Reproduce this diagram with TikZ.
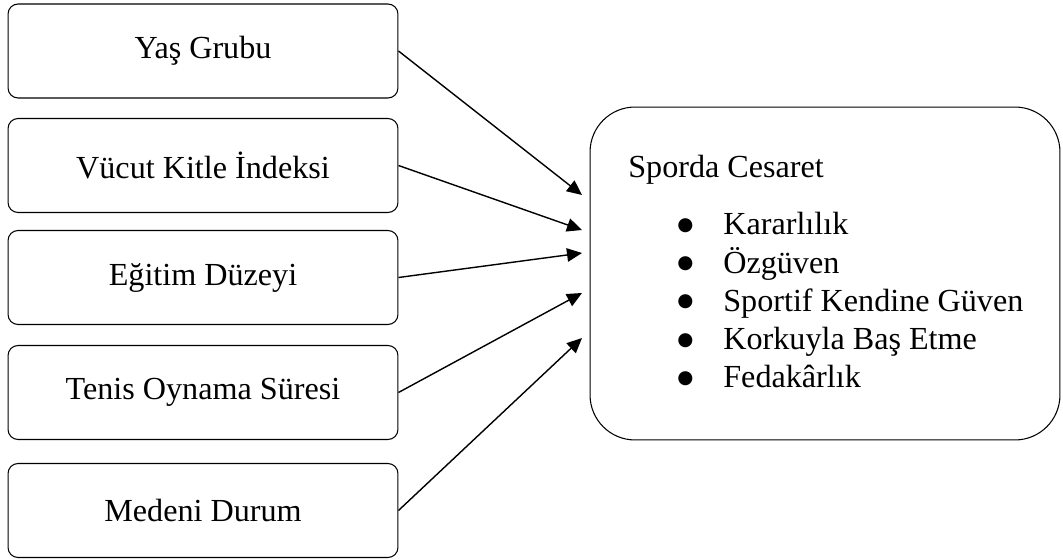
\documentclass[tikz,border=0pt]{standalone}
\usepackage{fontspec}
\setmainfont{Liberation Serif}
\newfontfamily\isaret{DejaVu Sans}
\usetikzlibrary{arrows.meta,positioning}
\tikzset{
kutu/.style={draw, rounded corners=0.2cm, minimum width=7.8cm,
	minimum height=1.88cm, line width=0.6pt, font=\fontsize{18.3}{22}\selectfont},
buyukkutu/.style={draw, rounded corners=0.9cm, minimum width=9.4cm,
	minimum height=6.66cm, line width=0.6pt},
madde/.style={anchor=base west, inner sep=0pt, font=\fontsize{18.3}{22}\selectfont},
ok/.style={-{Triangle[length=0.3cm,width=0.27cm]}, line width=0.8pt}
}
\newcommand{\iri}{\raisebox{0.09cm}{\isaret\fontsize{10.5}{11}\selectfont ●}}

\begin{document}
\begin{tikzpicture}[x=0.02cm, y=-0.02cm]
	\useasboundingbox (0,0) rectangle (1063,560);
	% sol taraf
	\node[kutu] (yas) at (203,51) {Yaş Grubu};
	\node[kutu] (vki) at (203,165.5) {Vücut Kitle İndeksi};
	\node[kutu] (egitim) at (203,277.5) {Eğitim Düzeyi};
	\node[kutu] (tenis) at (203,392.5) {Tenis Oynama Süresi};
	\node[kutu] (medeni) at (203,510.5) {Medeni Durum};
	% sag taraf
	\node[buyukkutu] (cesaret) at (825,273.5) {};
	\node[madde] (baslik) at (628,178) {Sporda Cesaret};
	\foreach \t [count=\i] in {Kararlılık, Özgüven, Sportif Kendine Güven,
		Korkuyla Baş Etme, Fedakârlık}{
		\node[madde] (b\i) at (677,196.5+38.3*\i) {\iri};
		\node[madde] (m\i) at (723,196.5+38.3*\i) {\t};
	}
	% oklar
	\coordinate (u1) at (582,195);
	\coordinate (u2) at (582,230);
	\coordinate (u3) at (582,253);
	\coordinate (u4) at (582,293);
	\coordinate (u5) at (582,338);
	\draw[ok] (yas.east) -- (u1);
	\draw[ok] (vki.east) -- (u2);
	\draw[ok] (egitim.east) -- (u3);
	\draw[ok] (tenis.east) -- (u4);
	\draw[ok] (medeni.east) -- (u5);
\end{tikzpicture}
\end{document}
